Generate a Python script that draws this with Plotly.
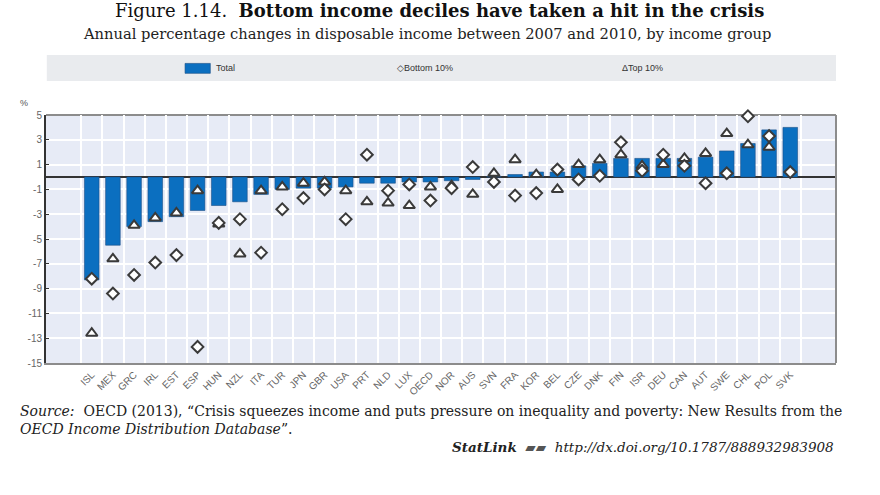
import plotly.graph_objects as go

countries = ["ISL","MEX","GRC","IRL","EST","ESP","HUN","NZL","ITA","TUR","JPN","GBR","USA","PRT","NLD","LUX","OECD","NOR","AUS","SVN","FRA","KOR","BEL","CZE","DNK","FIN","ISR","DEU","CAN","AUT","SWE","CHL","POL","SVK"]
total = [-8.3,-5.5,-4.0,-3.6,-3.2,-2.7,-2.3,-2.0,-1.4,-1.0,-0.9,-0.9,-0.8,-0.5,-0.5,-0.4,-0.4,-0.3,-0.2,0.02,0.2,0.4,0.4,0.9,1.1,1.5,1.5,1.5,1.5,1.6,2.1,2.7,3.8,4.0]
bottom10 = [-8.2,-9.4,-7.9,-6.9,-6.3,-13.7,-3.7,-3.4,-6.1,-2.6,-1.7,-1.0,-3.4,1.8,-1.1,-0.6,-1.9,-0.9,0.8,-0.4,-1.5,-1.3,0.6,-0.2,0.1,2.8,0.5,1.8,0.9,-0.5,0.3,4.9,3.3,0.4]
top10 = [-12.6,-6.6,-3.9,-3.3,-2.9,-1.1,-3.8,-6.2,-1.1,-0.8,-0.5,-0.4,-1.1,-2.0,-2.1,-2.3,-0.8,-0.7,-1.4,0.3,1.4,0.2,-1.0,1.0,1.4,1.8,0.9,1.0,1.5,1.9,3.5,2.6,2.4,None]
ytick_vals = [5,3,1,-1,-3,-5,-7,-9,-11,-13,-15]
ytick_text = ["5","3","1","-1","-3","-5","-7","-9","-11","-13","-15"]

SANS = "Liberation Sans Narrow, Liberation Sans, Arial"
SERIF = "DejaVu Serif, Liberation Serif, serif"
BLUE = "#0b6fc0"
MK = "#3a3a3a"

fig = go.Figure()
fig.add_trace(go.Bar(x=countries, y=total, name="Total",
                     marker=dict(color=BLUE, line=dict(color="#1d4f86", width=0.6))))
fig.add_trace(go.Scatter(x=countries, y=top10, mode="markers", name="Top 10%", cliponaxis=False,
                         marker=dict(symbol="triangle-up", size=10, color="white",
                                     line=dict(color=MK, width=2))))
fig.add_trace(go.Scatter(x=countries, y=bottom10, mode="markers", name="Bottom 10%", cliponaxis=False,
                         marker=dict(symbol="diamond", size=9, color="white",
                                     line=dict(color=MK, width=2))))

fig.update_layout(
    width=880, height=495,
    margin=dict(l=46, r=44, t=115, b=132, autoexpand=False),
    paper_bgcolor="white", plot_bgcolor="#e7ebf6",
    showlegend=False, bargap=0.31,
    font=dict(family=SANS, size=10, color="#555555"),
)
fig.update_xaxes(type="category", tickson="boundaries", showgrid=True, gridcolor="white",
                 gridwidth=1.5, tickangle=-45, tickfont=dict(size=10, color="#666666"),
                 showline=True, linecolor="#8c8c8c", linewidth=2, ticks="", ticklen=0,
                 automargin=False)
fig.update_yaxes(range=[-15, 5], tickvals=ytick_vals, ticktext=ytick_text,
                 showgrid=True, gridcolor="white", gridwidth=1.5,
                 zeroline=True, zerolinecolor="#333333", zerolinewidth=2,
                 showline=True, linecolor="#333333", linewidth=2,
                 ticks="inside", ticklen=3, tickcolor="#333333",
                 tickfont=dict(size=10, color="#666666"), automargin=False)

# plot border (top, right)
fig.add_shape(type="line", xref="paper", yref="paper", x0=0, x1=1, y0=1, y1=1,
              line=dict(color="#8c8c8c", width=2), layer="below")
fig.add_shape(type="line", xref="paper", yref="paper", x0=1, x1=1, y0=0, y1=1,
              line=dict(color="#8c8c8c", width=2))

# legend box
fig.add_shape(type="rect", xref="paper", yref="paper", x0=0.001, x1=1.0, y0=1.137, y1=1.242,
              fillcolor="#e9ebee", line=dict(width=0), layer="below")
fig.add_shape(type="rect", xref="paper", yref="paper", x0=0.176, x1=0.208, y0=1.168, y1=1.208,
              fillcolor=BLUE, line=dict(color="#1d4f86", width=0.6))
fig.add_annotation(text="Total", xref="paper", yref="paper", x=0.213, y=1.19,
                   xanchor="left", yanchor="middle", showarrow=False,
                   font=dict(family=SANS, size=9, color="#333333"))
fig.add_annotation(text="◇Bottom 10%", xref="paper", yref="paper", x=0.442, y=1.19,
                   xanchor="left", yanchor="middle", showarrow=False,
                   font=dict(family=SANS, size=9, color="#333333"))
fig.add_annotation(text="ΔTop 10%", xref="paper", yref="paper", x=0.727, y=1.19,
                   xanchor="left", yanchor="middle", showarrow=False,
                   font=dict(family=SANS, size=9, color="#333333"))

# % label
fig.add_annotation(text="%", xref="paper", yref="paper", x=-0.028, y=1.05,
                   xanchor="center", yanchor="middle", showarrow=False,
                   font=dict(family=SANS, size=9, color="#555555"))

# titles
fig.add_annotation(text="Figure 1.14.  <b>Bottom income deciles have taken a hit in the crisis</b>",
                   xref="paper", yref="paper", x=0.498, y=1.42, xanchor="center", yanchor="middle",
                   showarrow=False, font=dict(family=SERIF, size=18, color="#111111"))
fig.add_annotation(text="Annual percentage changes in disposable income between 2007 and 2010, by income group",
                   xref="paper", yref="paper", x=0.482, y=1.33, xanchor="center", yanchor="middle",
                   showarrow=False, font=dict(family=SERIF, size=14.7, color="#222222"))

# source
fig.add_annotation(text="<i>Source:</i>  OECD (2013), “Crisis squeezes income and puts pressure on inequality and poverty: New Results from the<br><i>OECD Income Distribution Database</i>”.",
                   xref="paper", yref="paper", x=-0.036, y=-0.155, xanchor="left", yanchor="top",
                   align="left", showarrow=False,
                   font=dict(family=SERIF, size=14, color="#222222"))
fig.add_annotation(text="<b><i>StatLink</i></b>  <span style='color:#555'>▰▰</span>  <i>http://dx.doi.org/10.1787/888932983908</i>",
                   xref="paper", yref="paper", x=1.0, y=-0.34, xanchor="right", yanchor="middle",
                   showarrow=False, font=dict(family=SERIF, size=13.5, color="#222222"))

fig.write_html("out.html", config={"displayModeBar": False},
               post_script="document.body.style.margin='0px';document.body.style.padding='0px';")
